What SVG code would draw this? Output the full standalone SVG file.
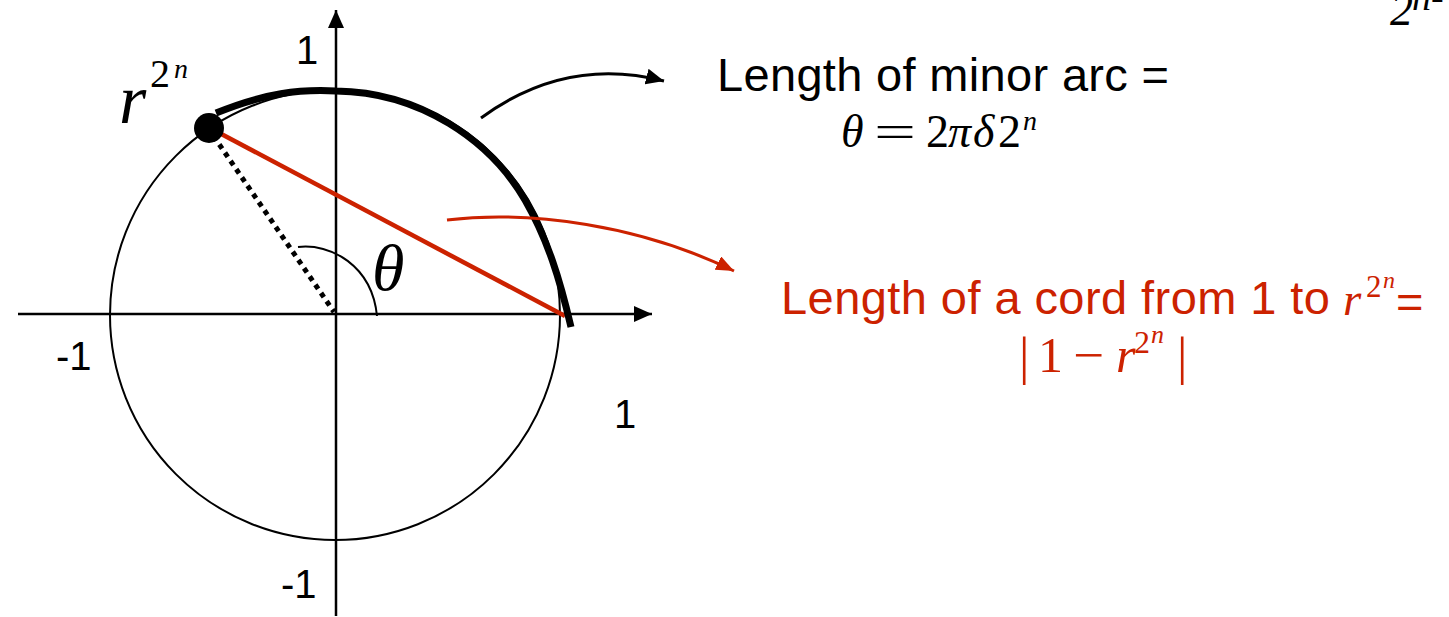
<svg xmlns="http://www.w3.org/2000/svg" width="1449" height="617" viewBox="0 0 1449 617">
<defs>
<style>
.sans{font-family:"Liberation Sans",Arial,sans-serif}
.serif{font-family:"Liberation Serif","Times New Roman",serif}
.it{font-style:italic}
.ax{stroke:#000;stroke-width:2.5;fill:none}
</style>
<marker id="ahB" markerUnits="userSpaceOnUse" markerWidth="18" markerHeight="16" refX="18" refY="8" orient="auto">
<path d="M0,0 L18,8 L0,16 z" fill="#000"/>
</marker>
<marker id="ahR" markerUnits="userSpaceOnUse" markerWidth="18" markerHeight="15" refX="18" refY="7.5" orient="auto">
<path d="M0,0 L18,7.5 L0,15 z" fill="#CC2200"/>
</marker>
</defs>
<rect width="1449" height="617" fill="#fff"/>

<g id="axes">
<line class="ax" x1="18" y1="314" x2="652" y2="314" marker-end="url(#ahB)"/>
<line class="ax" x1="336" y1="616" x2="336" y2="10" marker-end="url(#ahB)"/>
</g>

<g id="unit-circle">
<circle cx="335" cy="315" r="225" fill="none" stroke="#000" stroke-width="2"/>
</g>

<g id="theta-angle">
<path d="M298,247 C330,243 372,265 377,316" fill="none" stroke="#000" stroke-width="2"/>
<text class="serif it" x="372" y="290" font-size="66" fill="#000">θ</text>
</g>

<g id="radius">
<line x1="208" y1="128" x2="334" y2="312" stroke="#000" stroke-width="5" stroke-dasharray="5 5"/>
</g>

<g id="chord">
<line x1="210" y1="128" x2="565" y2="316" stroke="#CC2200" stroke-width="4.5"/>
</g>

<g id="minor-arc">
<path d="M216,113 C265,93 300,89 336,91 C420,92 490,140 525,200 C548,240 560,280 571,327" fill="none" stroke="#000" stroke-width="7"/>
</g>

<g id="point-r2n">
<circle cx="209" cy="128" r="15" fill="#000"/>
<text class="serif it" x="119" y="123" font-size="70" fill="#000">r</text>
<text class="serif" x="150" y="87" font-size="40" fill="#000">2</text>
<text class="serif it" x="174" y="78" font-size="28" fill="#000">n</text>
</g>

<g id="axis-labels" class="sans" font-size="40" fill="#000">
<text x="296" y="64">1</text>
<text x="56" y="370">-1</text>
<text x="614" y="428">1</text>
<text x="281" y="598">-1</text>
</g>

<g id="arc-label">
<text class="sans" x="717" y="91" font-size="47" fill="#000" textLength="452" lengthAdjust="spacing">Length of minor arc =</text>
<text class="serif it" x="841" y="147" font-size="46" fill="#000">θ</text>
<text class="serif" x="874" y="147" font-size="46" fill="#000" textLength="42" lengthAdjust="spacingAndGlyphs">=</text>
<text class="serif" x="926" y="147" font-size="46" fill="#000">2</text>
<text class="serif it" x="948" y="147" font-size="46" fill="#000">π</text>
<text class="serif it" x="973" y="147" font-size="46" fill="#000">δ</text>
<text class="serif" x="998" y="147" font-size="46" fill="#000">2</text>
<text class="serif it" x="1023" y="130" font-size="28" fill="#000">n</text>
</g>

<g id="cord-label">
<text class="sans" x="781" y="314" font-size="47" fill="#CC2200" textLength="549" lengthAdjust="spacing">Length of a cord from 1 to</text>
<text class="serif it" x="1343" y="315" font-size="47" fill="#CC2200">r</text>
<text class="serif" x="1366" y="297" font-size="31" fill="#CC2200">2</text>
<text class="serif it" x="1383" y="288" font-size="24" fill="#CC2200">n</text>
<text class="sans" x="1396" y="318" font-size="47" fill="#CC2200">=</text>
<text class="serif" x="1019" y="374" font-size="52" fill="#CC2200">|</text>
<text class="serif" x="1038" y="372" font-size="50" fill="#CC2200">1</text>
<text class="serif" x="1073" y="372" font-size="50" fill="#CC2200" textLength="31" lengthAdjust="spacingAndGlyphs">−</text>
<text class="serif it" x="1116" y="372" font-size="50" fill="#CC2200">r</text>
<text class="serif" x="1134" y="353" font-size="32" fill="#CC2200">2</text>
<text class="serif it" x="1151" y="343" font-size="26" fill="#CC2200">n</text>
<text class="serif" x="1177" y="374" font-size="52" fill="#CC2200">|</text>
</g>

<g id="corner-text">
<text class="serif it" x="1390" y="25" font-size="46" fill="#000">2</text>
<text class="serif it" x="1412" y="10" font-size="38" fill="#000">n-</text>
</g>

<g id="connectors">
<path d="M481,118 C530,82 590,62 664,81" fill="none" stroke="#000" stroke-width="3" marker-end="url(#ahB)"/>
<path d="M447,220 C530,210 640,225 734,271" fill="none" stroke="#CC2200" stroke-width="3" marker-end="url(#ahR)"/>
</g>
</svg>
